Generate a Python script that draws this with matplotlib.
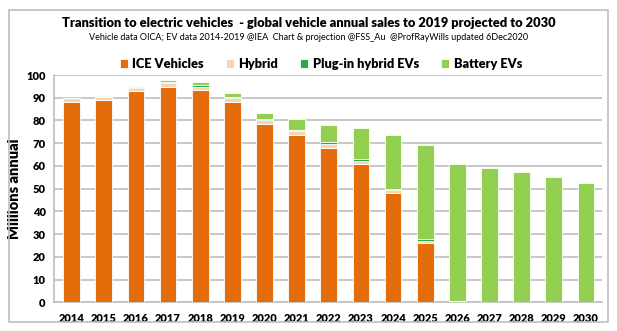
import numpy as np
import matplotlib
matplotlib.use("Agg")
import matplotlib.pyplot as plt
from matplotlib.patches import Rectangle

# === Data (millions of vehicles) ===
years = [str(y) for y in range(2014, 2031)]
ice = [88.0, 89.0, 93.0, 94.8, 93.3, 88.0, 78.5, 73.5, 68.0, 61.0, 48.2, 26.3,
       0.0, 0.0, 0.0, 0.0, 0.0]
hybrid = [1.7, 1.3, 1.4, 1.5, 1.6, 1.7, 1.7, 1.8, 1.7, 1.2, 1.1, 0.8,
          0.2, 0.0, 0.0, 0.0, 0.0]
phev = [0.1, 0.2, 0.3, 0.5, 0.6, 0.5, 0.6, 0.6, 0.7, 0.7, 0.7, 0.6,
        0.3, 0.0, 0.0, 0.0, 0.0]
bev = [0.2, 0.3, 0.5, 0.8, 1.5, 1.7, 2.5, 4.6, 7.7, 13.8, 23.6, 41.5,
       60.5, 59.2, 57.3, 55.1, 52.3]

series = [("ICE Vehicles", ice, "#E46C0A"),
          ("Hybrid", hybrid, "#FBD4B4"),
          ("Plug-in hybrid EVs", phev, "#1DB04B"),
          ("Battery EVs", bev, "#92D050")]

plt.rcParams["font.family"] = ["Lato", "DejaVu Sans"]

fig = plt.figure(figsize=(6.17, 3.31), dpi=100)

# outer frame
fig.patches.append(Rectangle((9 / 617, 1 - 322 / 331), 599 / 617, 312 / 331,
                             transform=fig.transFigure, fill=False,
                             edgecolor="#BFBFBF", linewidth=1.2))

ax = fig.add_axes([54 / 617, 1 - 302.3 / 331, 548 / 617, 227.3 / 331])

x = np.arange(len(years))
bottom = np.zeros(len(years))
handles = []
for label, vals, col in series:
    b = ax.bar(x, vals, width=0.52, bottom=bottom, color=col,
               edgecolor="white", linewidth=0.6, label=label, zorder=3)
    handles.append(b)
    bottom += np.array(vals)

ax.set_xlim(-0.55, len(years) - 0.5)
ax.set_ylim(0, 100)
ax.set_yticks(range(0, 101, 10))
ax.set_xticks(x)
ax.set_xticklabels(years)
ax.grid(axis="y", color="#BFBFBF", linewidth=1.2, zorder=0)
for s in ["top", "right"]:
    ax.spines[s].set_visible(False)
ax.spines["left"].set_color("#BFBFBF")
ax.spines["bottom"].set_color("#BFBFBF")
ax.spines["left"].set_linewidth(1.2)
ax.spines["bottom"].set_linewidth(1.2)
ax.tick_params(length=0, labelsize=8)
ax.tick_params(axis="x", pad=8)
ax.tick_params(axis="y", pad=6)
for t in ax.get_xticklabels() + ax.get_yticklabels():
    t.set_fontweight("heavy")
ax.set_ylabel("Millions annual", fontsize=10.5, fontweight="heavy")
ax.yaxis.set_label_coords(-0.06, 0.5)

fig.text(0.5, 1 - 23 / 331, "Transition to electric vehicles  - global vehicle annual sales to 2019 projected to 2030",
         ha="center", va="center", fontsize=9.3, fontweight="heavy")
fig.text(0.5, 1 - 37 / 331, "Vehicle data OICA; EV data 2014-2019 @IEA  Chart & projection @FSS_Au  @ProfRayWills updated 6Dec2020",
         ha="center", va="center", fontsize=6.5)

fig.legend(handles=handles, loc="center", bbox_to_anchor=(0.52, 1 - 64 / 331),
           ncol=4, frameon=False, prop={"weight": "heavy", "size": 9.2},
           handlelength=0.65, handleheight=0.65, handletextpad=0.35,
           columnspacing=1.7)

fig.savefig("out.png", dpi=100)
